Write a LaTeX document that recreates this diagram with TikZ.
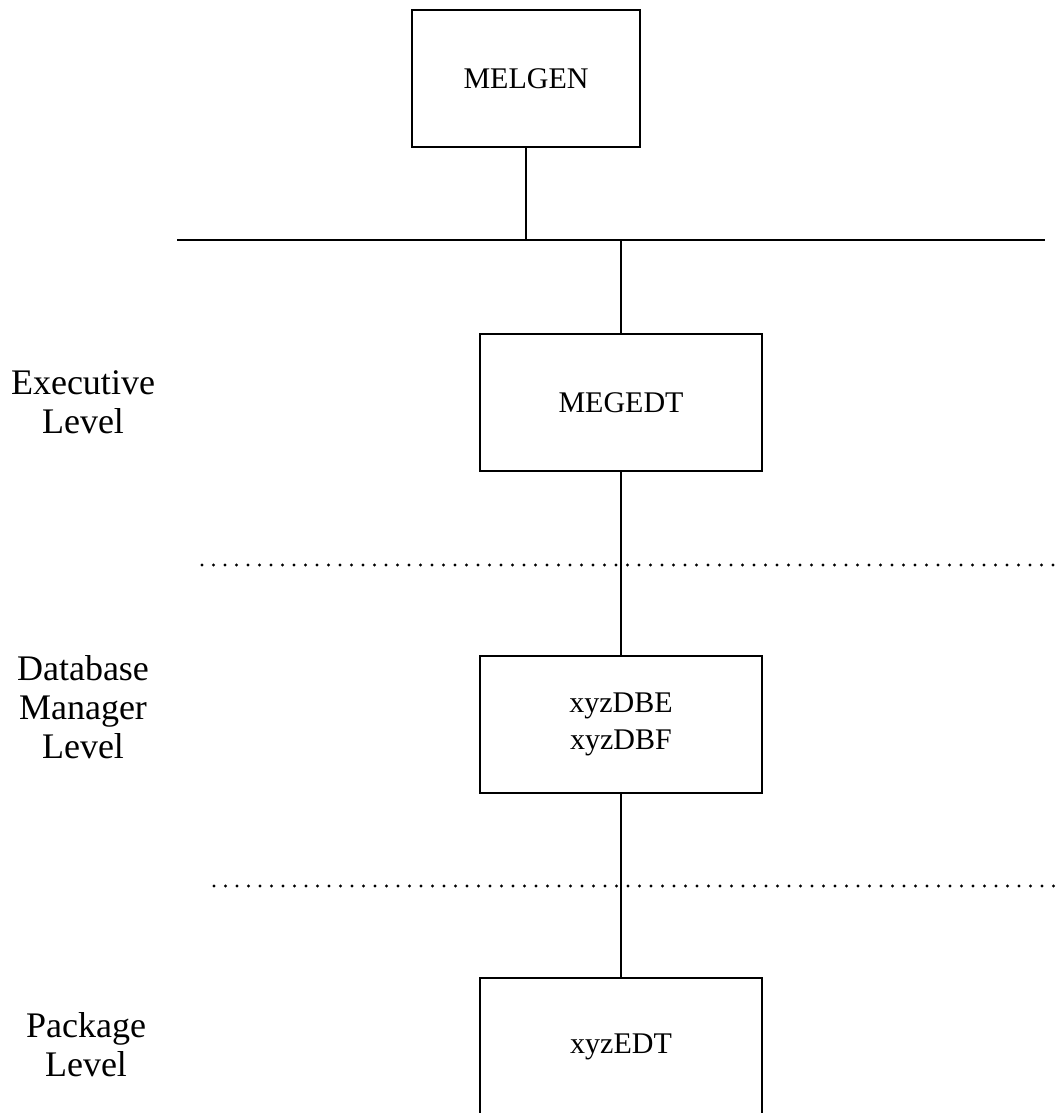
\documentclass[tikz,border=0pt]{standalone}
\usepackage{fontspec}
\setmainfont{Liberation Serif}
\begin{document}
\begin{tikzpicture}[x=0.5pt,y=-0.5pt,
  module/.style={draw,line width=1.1pt,minimum width=141pt,minimum height=68.5pt,
    inner sep=0pt,align=center,font=\fontsize{15}{18.5}\selectfont},
  levellabel/.style={align=center,inner sep=0pt,font=\fontsize{18}{19.5}\selectfont},
  link/.style={line width=1pt},
  divider/.style={line width=1.6pt,line cap=round,dash pattern=on 0pt off 5.75pt}]
\useasboundingbox (0,0) rectangle (1058,1113);
\clip (0,0) rectangle (1058,1113);

% modules
\node[module,minimum width=114pt] (melgen) at (526,78.5) {MELGEN};
\node[module] (megedt) at (621,402.5) {MEGEDT};
\node[module] (dbm) at (621,724.5) {xyzDBE\\xyzDBF};
\node[module] (edt) at (621,1046.5) {xyzEDT};

% bus under the top module
\coordinate (busL) at (177,240);
\coordinate (busR) at (1045,240);
\coordinate (busA) at (526,240);
\coordinate (busB) at (621,240);
\draw[link] (busL) -- (busR);
\draw[link] (melgen.south) -- (busA);
\draw[link] (busB) -- (megedt.north);
\draw[link] (megedt.south) -- (dbm.north);
\draw[link] (dbm.south) -- (edt.north);

% level dividers
\coordinate (d1L) at (202,565);
\coordinate (d1R) at (1058,565);
\coordinate (d2L) at (214,886);
\coordinate (d2R) at (1058,886);
\draw[divider] (d1L) -- (d1R);
\draw[divider] (d2L) -- (d2R);

% level labels
\node[levellabel] (lexec) at (83,402) {Executive\\Level};
\node[levellabel] (ldb) at (83,707) {Database\\Manager\\Level};
\node[levellabel] (lpkg) at (86,1045) {Package\\Level};
\end{tikzpicture}
\end{document}
